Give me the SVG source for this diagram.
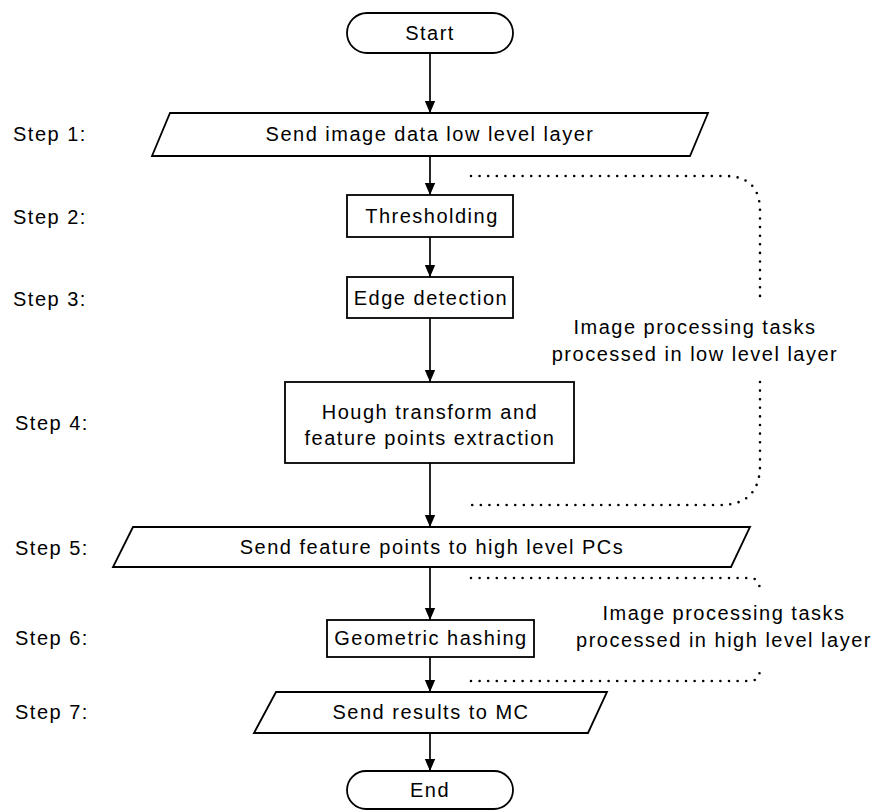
<svg xmlns="http://www.w3.org/2000/svg" width="874" height="810" viewBox="0 0 874 810">
  <style>
    .shape { fill: #ffffff; stroke: #000000; stroke-width: 1.8; }
    .label { font-family: "Liberation Sans", Arial, sans-serif; font-size: 20px; letter-spacing: 1.5px; fill: #000000; }
    .mid { text-anchor: middle; dominant-baseline: central; }
    .step { dominant-baseline: central; }
    .flow { fill: none; stroke: #000000; stroke-width: 1.7; marker-end: url(#arrow); }
    .dots { fill: none; stroke: #000000; stroke-width: 2.6; stroke-linecap: round; stroke-dasharray: 0 8.6; }
  </style>
  <defs>
    <marker id="arrow" viewBox="0 0 12 12" refX="12" refY="6" markerWidth="12" markerHeight="12" markerUnits="userSpaceOnUse" orient="auto">
      <path d="M0,0.8 L12,6 L0,11.2 Z" fill="#000000"/>
    </marker>
  </defs>
  <rect width="874" height="810" fill="#ffffff"/>

  <!-- step captions -->
  <g id="step-labels">
    <text class="label step" x="13" y="134">Step 1:</text>
    <text class="label step" x="13" y="217">Step 2:</text>
    <text class="label step" x="13" y="299">Step 3:</text>
    <text class="label step" x="15" y="423">Step 4:</text>
    <text class="label step" x="15" y="548">Step 5:</text>
    <text class="label step" x="15" y="638">Step 6:</text>
    <text class="label step" x="15" y="712">Step 7:</text>
  </g>

  <!-- connectors -->
  <g id="connectors">
    <line class="flow" x1="430" y1="53" x2="430" y2="113"/>
    <line class="flow" x1="430" y1="156" x2="430" y2="195"/>
    <line class="flow" x1="430" y1="237" x2="430" y2="277"/>
    <line class="flow" x1="430" y1="318" x2="430" y2="382"/>
    <line class="flow" x1="430" y1="463" x2="430" y2="527"/>
    <line class="flow" x1="430" y1="567" x2="430" y2="620"/>
    <line class="flow" x1="430" y1="657" x2="430" y2="692"/>
    <line class="flow" x1="430" y1="733" x2="430" y2="771"/>
  </g>

  <g id="start">
    <rect class="shape" x="347" y="13" width="166" height="40" rx="20" ry="20"/>
    <text class="label mid" x="430" y="33">Start</text>
  </g>

  <g id="send-image">
    <polygon class="shape" points="170,113 708,113 690,156 152,156"/>
    <text class="label mid" x="430" y="134">Send image data low level layer</text>
  </g>

  <g id="thresholding">
    <rect class="shape" x="347" y="195" width="166" height="42"/>
    <text class="label mid" x="432" y="216">Thresholding</text>
  </g>

  <g id="edge-detection">
    <rect class="shape" x="347" y="277" width="166" height="41"/>
    <text class="label mid" x="431" y="298">Edge detection</text>
  </g>

  <g id="hough">
    <rect class="shape" x="285" y="382" width="289" height="81"/>
    <text class="label mid" x="430" y="412">Hough transform and</text>
    <text class="label mid" x="430" y="438">feature points extraction</text>
  </g>

  <g id="send-features">
    <polygon class="shape" points="133,527 750,527 731,567 113,567"/>
    <text class="label mid" x="432" y="547">Send feature points to high level PCs</text>
  </g>

  <g id="geometric-hashing">
    <rect class="shape" x="327" y="620" width="207" height="37"/>
    <text class="label mid" x="431" y="638">Geometric hashing</text>
  </g>

  <g id="send-results">
    <polygon class="shape" points="276,692 607,692 588,733 254,733"/>
    <text class="label mid" x="431" y="712">Send results to MC</text>
  </g>

  <g id="end">
    <rect class="shape" x="347" y="771" width="166" height="38" rx="19" ry="19"/>
    <text class="label mid" x="430" y="790">End</text>
  </g>

  <!-- low level layer bracket -->
  <g id="low-level-group">
    <path class="dots" d="M471,176 H725 Q760,176 760,211 V297"/>
    <path class="dots" d="M760,382 V465 Q760,505 720,505 H471"/>
    <text class="label mid" x="695" y="327">Image processing tasks</text>
    <text class="label mid" x="695" y="354">processed in low level layer</text>
  </g>

  <!-- high level layer bracket -->
  <g id="high-level-group">
    <path class="dots" d="M471,578 H750 Q760,578 760,592"/>
    <path class="dots" d="M471,681 H750 Q760,681 760,668"/>
    <text class="label mid" x="724" y="613">Image processing tasks</text>
    <text class="label mid" x="724" y="640">processed in high level layer</text>
  </g>
</svg>
